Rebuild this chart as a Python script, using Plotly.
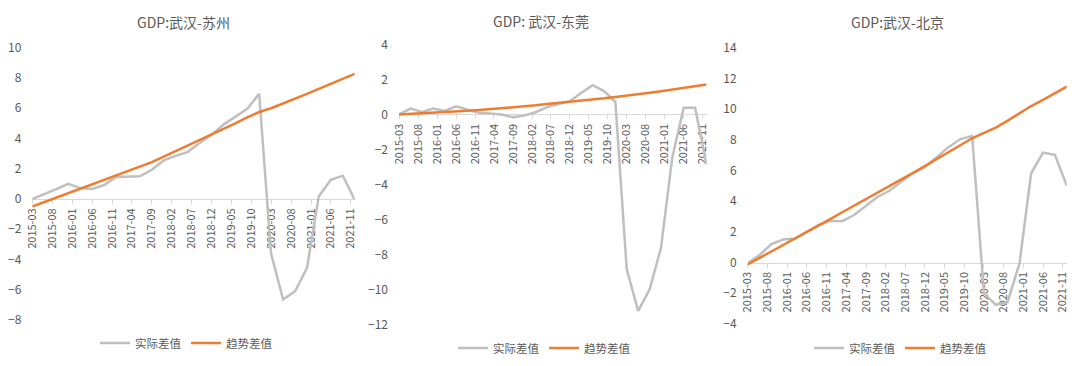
import plotly.graph_objects as go

# ---------------- data ----------------
quarters = [
    "2015-03", "2015-06", "2015-09", "2015-12",
    "2016-03", "2016-06", "2016-09", "2016-12",
    "2017-03", "2017-06", "2017-09", "2017-12",
    "2018-03", "2018-06", "2018-09", "2018-12",
    "2019-03", "2019-06", "2019-09", "2019-12",
    "2020-03", "2020-06", "2020-09", "2020-12",
    "2021-03", "2021-06", "2021-09", "2021-12",
]

titles = ["GDP:武汉-苏州", "GDP: 武汉-东莞", "GDP:武汉-北京"]
series_names = ["实际差值", "趋势差值"]

# 武汉-苏州
suzhou_actual = [0.0, 0.3, 0.65, 1.0, 0.72, 0.66, 0.92, 1.45, 1.47, 1.5, 1.93, 2.55,
                 2.85, 3.1, 3.7, 4.24, 4.9, 5.45, 5.96, 6.95, -3.6, -6.65, -6.1, -4.55,
                 0.17, 1.27, 1.54, -0.05]
suzhou_trend = [-0.5, -0.2, 0.1, 0.4, 0.7, 0.99, 1.28, 1.57, 1.86, 2.15, 2.44, 2.8,
                3.16, 3.52, 3.88, 4.24, 4.62, 5.0, 5.4, 5.75, 6.0, 6.3, 6.62, 6.95,
                7.28, 7.6, 7.95, 8.27]

# 武汉-东莞
dongguan_actual = [0.0, 0.34, 0.15, 0.34, 0.2, 0.47, 0.27, 0.1, 0.05, 0.0, -0.15, -0.06,
                   0.13, 0.42, 0.6, 0.76, 1.23, 1.67, 1.33, 0.72, -8.83, -11.2, -9.97, -7.6,
                   -2.47, 0.38, 0.38, -2.85]
dongguan_trend = [0.0, 0.03, 0.06, 0.1, 0.13, 0.17, 0.21, 0.25, 0.3, 0.35, 0.4, 0.45,
                  0.52, 0.6, 0.66, 0.72, 0.78, 0.85, 0.92, 1.0, 1.07, 1.15, 1.24, 1.33,
                  1.42, 1.52, 1.62, 1.71]

# 武汉-北京
beijing_actual = [-0.05, 0.5, 1.2, 1.5, 1.57, 2.0, 2.45, 2.72, 2.7, 3.1, 3.68, 4.29,
                  4.68, 5.27, 5.85, 6.22, 6.87, 7.52, 8.05, 8.25, -2.0, -2.75, -2.55, -0.05,
                  5.82, 7.17, 7.02, 5.0]
beijing_trend = [-0.12, 0.3, 0.73, 1.15, 1.58, 2.0, 2.43, 2.85, 3.28, 3.7, 4.13, 4.56,
                 4.99, 5.42, 5.85, 6.3, 6.75, 7.2, 7.65, 8.1, 8.45, 8.8, 9.25, 9.75,
                 10.2, 10.6, 11.05, 11.46]

actual_series = [suzhou_actual, dongguan_actual, beijing_actual]
trend_series = [suzhou_trend, dongguan_trend, beijing_trend]

# ---------------- layout (pixel geometry, screen coords) ----------------
OFF = 8                      # default page body margin
W, H = 1080 - 2 * OFF, 366 - 2 * OFF
y_ranges = [(-8, 10), (-12, 4), (-4, 14)]
plot_x = [(32.3, 354.7), (399.0, 706.5), (747.7, 1066.7)]
plot_y = [(47.7, 320.0), (44.3, 325.0), (47.7, 324.0)]   # top, bottom (px)
title_pos = [(183, 22), (541, 21), (897, 22)]
legend_pos = [(186, 343), (544, 348), (900, 348)]

GRAY = "#BFBFBF"
ORANGE = "#ED7D31"
TEXT = "#595959"
AXIS = "#D9D9D9"
FONT = "Noto Sans CJK SC, Noto Sans, sans-serif"


def px_x(v):
    return (v - OFF) / W


def px_y(v):
    return 1 - (v - OFF) / H


fig = go.Figure()
layout = dict(
    width=W, height=H, autosize=False,
    margin=dict(l=0, r=0, t=0, b=0, pad=0, autoexpand=False),
    paper_bgcolor="white", plot_bgcolor="white",
    font=dict(family=FONT, color=TEXT, size=11),
    showlegend=True,
    annotations=[],
)

for k in range(3):
    sfx = "" if k == 0 else str(k + 1)
    xname, yname = "x" + sfx, "y" + sfx
    lname = "legend" + sfx
    fig.add_trace(go.Scatter(x=quarters, y=actual_series[k], mode="lines",
                             name=series_names[0], line=dict(color=GRAY, width=2.5),
                             xaxis=xname, yaxis=yname, legend=lname))
    fig.add_trace(go.Scatter(x=quarters, y=trend_series[k], mode="lines",
                             name=series_names[1], line=dict(color=ORANGE, width=2.5),
                             xaxis=xname, yaxis=yname, legend=lname))

    x0, x1 = plot_x[k]
    top, bot = plot_y[k]
    ymin, ymax = y_ranges[k]
    zero_px = bot - (0 - ymin) / (ymax - ymin) * (bot - top)

    layout["xaxis" + sfx] = dict(
        type="date", domain=[px_x(x0), px_x(x1)],
        range=["2015-03-01", "2021-12-01"],
        anchor="free", position=px_y(zero_px), automargin=False,
        tick0="2015-03-01", dtick="M5", tickformat="%Y-%m",
        tickangle=-90, tickfont=dict(size=11, color=TEXT),
        showline=True, linecolor=AXIS, linewidth=1,
        ticks="outside", ticklen=4, tickcolor=AXIS,
        showgrid=False, zeroline=False, layer="below traces",
        fixedrange=True,
    )
    layout["yaxis" + sfx] = dict(
        domain=[px_y(bot), px_y(top)], range=[ymin - 0.001, ymax + 0.001],
        anchor=xname, dtick=2, tick0=0, automargin=False,
        showline=False, showgrid=False, zeroline=False,
        ticks="", ticklabelstandoff=10,
        tickfont=dict(size=12, color=TEXT), fixedrange=True,
    )
    tx, ty = title_pos[k]
    layout["annotations"].append(dict(
        text=titles[k], x=px_x(tx), y=px_y(ty), xref="paper", yref="paper",
        xanchor="center", yanchor="middle", showarrow=False,
        font=dict(size=14, color=TEXT, family=FONT),
    ))
    lx, ly = legend_pos[k]
    layout[lname] = dict(
        orientation="h", x=px_x(lx), y=px_y(ly),
        xanchor="center", yanchor="middle",
        font=dict(size=11.5, color=TEXT, family=FONT),
        bgcolor="rgba(0,0,0,0)", itemwidth=30,
        entrywidth=46, entrywidthmode="pixels",
    )

fig.update_layout(**layout)
fig.write_html("out.html")
